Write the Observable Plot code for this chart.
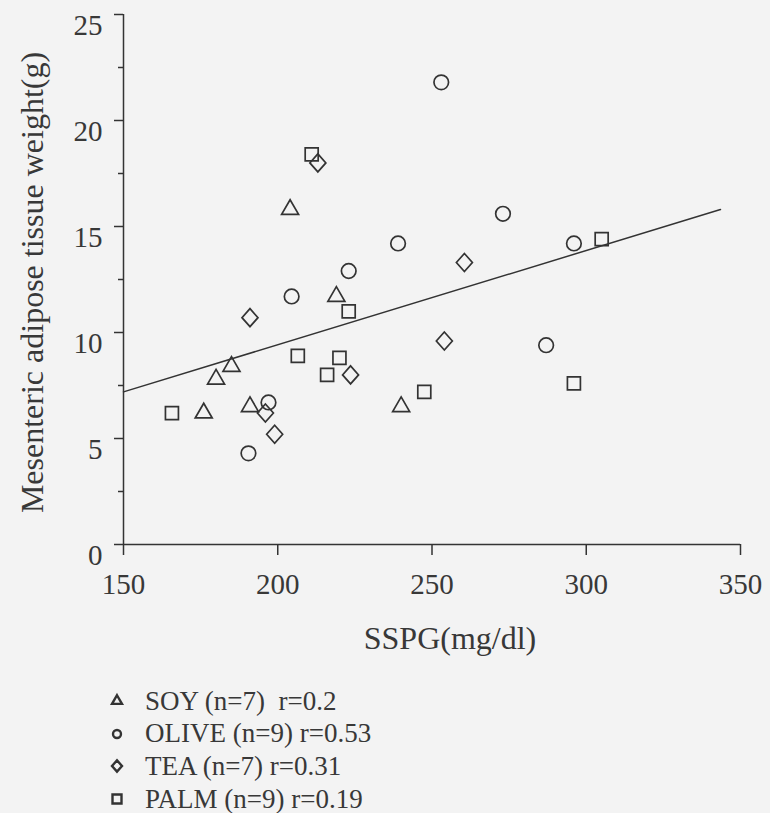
<!DOCTYPE html>
<html><head><meta charset="utf-8">
<script src="https://cdn.jsdelivr.net/npm/d3@7"></script>
<script src="https://cdn.jsdelivr.net/npm/@observablehq/plot@0.6"></script>
<style>
body{margin:0;background:#f3f3f3;font-family:"Liberation Serif","Times New Roman",serif;color:#383838;}
#chart svg text{font-family:"Liberation Serif","Times New Roman",serif;}
#legend{margin-top:15px;}
.row{height:32.6px;display:flex;align-items:center;white-space:pre;font-size:27px;padding-left:107px;}
.row svg{margin-right:18px;flex:none;}
</style></head><body><div id="chart"></div><div id="legend"></div>
<script>
const seriesNames = ["SOY","OLIVE","TEA","PALM"];
const legendLabels = ["SOY (n=7)  r=0.2","OLIVE (n=9) r=0.53","TEA (n=7) r=0.31","PALM (n=9) r=0.19"];
const soyX = [204,219,185,180,191,176,240];
const soyY = [15.8,11.7,8.4,7.8,6.5,6.2,6.5];
const oliveX = [253,273,239,296,223,204.5,287,197,190.5];
const oliveY = [21.8,15.6,14.2,14.2,12.9,11.7,9.4,6.7,4.3];
const teaX = [213,191,260.5,254,223.6,196,199];
const teaY = [18.0,10.7,13.3,9.6,8.0,6.2,5.2];
const palmX = [211,223,206.5,220,216,247.5,296,305,165.7];
const palmY = [18.4,11.0,8.9,8.8,8.0,7.2,7.6,14.4,6.2];
const trendX = [150,343.5];
const trendY = [7.2,15.8];
const xTicks = [150,200,250,300,350];
const yTicks = [0,5,10,15,20,25];
const yMinorTicks = [2.5,7.5,12.5,17.5,22.5];
const xLabel = "SSPG(mg/dl)";
const yLabel = "Mesenteric adipose tissue weight(g)";

const ink = "#333";
const textInk = "#383838";
const serif = '"Liberation Serif", "Times New Roman", serif';
const diamondSym = {draw(ctx, size){ const s=Math.sqrt(size); const w=0.645*s, h=0.726*s; ctx.moveTo(0,-h); ctx.lineTo(w,0); ctx.lineTo(0,h); ctx.lineTo(-w,0); ctx.closePath(); }};
const pts = (xs, ys) => xs.map((x,i)=>({x, y: ys[i]}));
const seriesStyle = {
  SOY: {symbol: "triangle", r: 6.3, xs: soyX, ys: soyY},
  OLIVE: {symbol: "circle", r: 7.3, xs: oliveX, ys: oliveY},
  TEA: {symbol: diamondSym, r: 7, xs: teaX, ys: teaY},
  PALM: {symbol: "square", r: 7.33, xs: palmX, ys: palmY}
};

const chart = Plot.plot({
  width: 770, height: 670,
  marginLeft: 123, marginRight: 30, marginTop: 14, marginBottom: 126,
  style: {background: "#f3f3f3", fontFamily: serif, color: ink, overflow: "visible"},
  x: {domain: [150, 350]},
  y: {domain: [0, 25]},
  marks: [
    Plot.axisX({ticks: xTicks, tickSize: 11, tickPadding: 18, fontSize: 29, fontFamily: serif, fill: textInk, label: null, strokeWidth: 1.5}),
    Plot.axisY({ticks: yTicks, tickSize: 9, tickPadding: 12, fontSize: 29, fontFamily: serif, fill: textInk, lineAnchor: "top", label: null, strokeWidth: 1.5}),
    Plot.axisY({ticks: yMinorTicks, tickSize: 5, fill: "none", label: null, strokeWidth: 1.5}),
    Plot.ruleX([150], {stroke: ink, strokeWidth: 1.5}),
    Plot.ruleY([0], {stroke: ink, strokeWidth: 1.5}),
    Plot.line(pts(trendX, trendY), {x: "x", y: "y", stroke: ink, strokeWidth: 1.5}),
    ...seriesNames.map(n => {
      const s = seriesStyle[n];
      return Plot.dot(pts(s.xs, s.ys), {x: "x", y: "y", symbol: s.symbol, r: s.r, stroke: ink, fill: "none", strokeWidth: 1.7});
    }),
    Plot.text([yLabel], {text: d => d, frameAnchor: "left", textAnchor: "middle", rotate: -90, dx: -91, dy: 3, fontSize: 32, fontFamily: serif, fill: textInk}),
    Plot.text([xLabel], {text: d => d, frameAnchor: "bottom", textAnchor: "middle", dx: 18, dy: 82, lineAnchor: "top", fontSize: 32, fontFamily: serif, fill: textInk})
  ]
});
document.getElementById("chart").append(chart);

const legendSizes = {SOY: {type: d3.symbolTriangle, size: 43}, OLIVE: {type: d3.symbolCircle, size: 50}, TEA: {type: diamondSym, size: 60}, PALM: {type: d3.symbolSquare, size: 81}};
const legend = d3.select("#legend");
seriesNames.forEach((n, i) => {
  const row = legend.append("div").attr("class", "row");
  const svg = row.append("svg").attr("width", 20).attr("height", 20);
  svg.append("path").attr("transform", "translate(10,10)")
    .attr("d", d3.symbol().type(legendSizes[n].type).size(legendSizes[n].size)())
    .attr("fill", "none").attr("stroke", ink).attr("stroke-width", 2.4);
  row.append("span").text(legendLabels[i]);
});
</script>
</body></html>
